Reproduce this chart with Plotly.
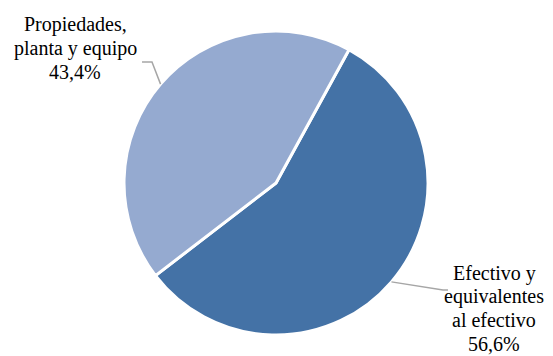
import math
import plotly.graph_objects as go

# Datos
labels = ['Efectivo y<br>equivalentes<br>al efectivo', 'Propiedades,<br>planta y equipo']
values = [56.6, 43.4]
colors = ['#4472A6', '#95AAD0']

# the page body keeps an 8px margin, so the figure is drawn 8px smaller and shifted
OFF = 8
W, H = 553 - OFF, 356 - OFF
cx, cy, r = 276 - OFF, 183 - OFF, 152   # pie centre / radius in px
start = 28.7                             # first slice starts here (deg, clockwise from 12 o'clock)

fig = go.Figure()
fig.add_trace(go.Pie(
    labels=labels, values=values, sort=False, direction='clockwise',
    rotation=start, textinfo='none', hoverinfo='label+percent',
    marker=dict(colors=colors, line=dict(color='white', width=3)),
    domain=dict(x=[(cx - r) / W, (cx + r) / W], y=[(H - cy - r) / H, (H - cy + r) / H]),
    showlegend=False,
))

# label anchors (px: centre x, first line middle y) and leader line elbows
label_pos = [(494, 273), (75, 25)]
elbows = [[(443, 290), (448, 290)], [(152, 62), (142, 62)]]
LINE = 23.5

total = sum(values)
acc = start
for lab, v, (lx, ly), elb in zip(labels, values, label_pos, elbows):
    mid = acc + v / total * 360 / 2
    acc += v / total * 360
    ex = cx + r * math.sin(math.radians(mid))
    ey = cy - r * math.cos(math.radians(mid))
    pts = [(ex, ey)] + [(x - OFF, y - OFF) for x, y in elb]
    path = 'M ' + ' L '.join(f'{x / W:.4f},{1 - y / H:.4f}' for x, y in pts)
    fig.add_shape(type='path', path=path, xref='paper', yref='paper',
                  line=dict(color='#A6A6A6', width=1.5))
    pct = f'{v / total * 100:.1f}%'.replace('.', ',')
    for i, line in enumerate((lab + '<br>' + pct).split('<br>')):
        fig.add_annotation(text=line, x=(lx - OFF) / W, y=1 - (ly + i * LINE - OFF) / H,
                           xref='paper', yref='paper', showarrow=False,
                           xanchor='center', yanchor='middle', align='center',
                           font=dict(family='Liberation Serif, Times New Roman, serif',
                                     size=20, color='black'))

fig.update_layout(width=W, height=H, margin=dict(l=0, r=0, t=0, b=0),
                  paper_bgcolor='white', plot_bgcolor='white')

fig.write_html('out.html')
